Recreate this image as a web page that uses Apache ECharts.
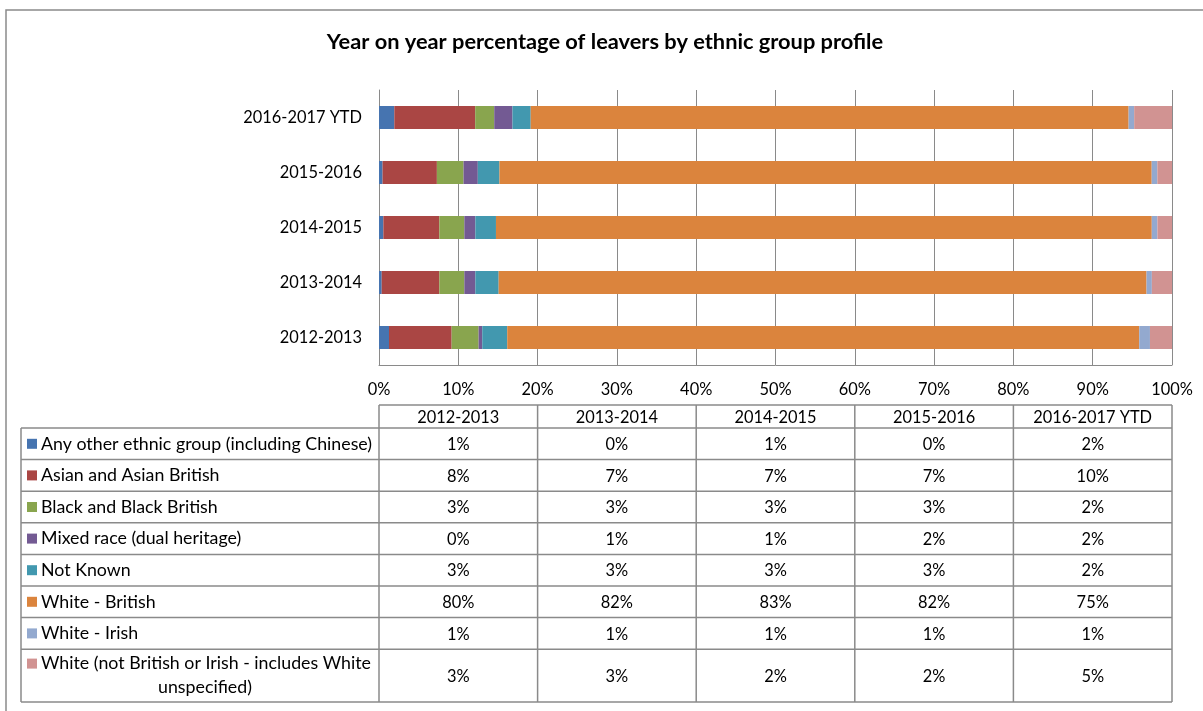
<!DOCTYPE html>
<html>
<head>
<meta charset="utf-8">
<title>Leavers by ethnic group</title>
<script src="https://cdn.jsdelivr.net/npm/echarts@6/dist/echarts.min.js"></script>
<style>
  html, body { margin: 0; padding: 0; background: #ffffff; }
  #chart { width: 1203px; height: 711px; }
</style>
</head>
<body>
<div id="chart"></div>
<script>
// Academic years, bottom to top on the chart
const years = ['2012-2013', '2013-2014', '2014-2015', '2015-2016', '2016-2017 YTD'];

// Percentage of leavers per ethnic group, one value per year
const anyOther     = [1.26, 0.34, 0.55, 0.45, 1.93];
const asianBritish = [7.90, 7.27, 7.06, 6.85, 10.20];
const blackBritish = [3.40, 3.15, 3.15, 3.36, 2.40];
const mixedRace    = [0.46, 1.39, 1.39, 1.80, 2.30];
const notKnown     = [3.15, 2.94, 2.60, 2.73, 2.30];
const whiteBritish = [79.70, 81.70, 82.70, 82.25, 75.40];
const whiteIrish   = [1.35, 0.67, 0.71, 0.71, 0.70];
const whiteOther   = [2.78, 2.54, 1.84, 1.85, 4.77];

const groupNames = [
  'Any other ethnic group (including Chinese)',
  'Asian and Asian British',
  'Black and Black British',
  'Mixed race (dual heritage)',
  'Not Known',
  'White - British',
  'White - Irish',
  'White (not British or Irish - includes White unspecified)'
];
const groupValues = [anyOther, asianBritish, blackBritish, mixedRace, notKnown, whiteBritish, whiteIrish, whiteOther];

// Percentage axis ticks
const axisMin = 0, axisMax = 100, axisStep = 10;

const palette = ['#4674B0', '#AA4644', '#89A54E', '#735A93', '#4298AF', '#DB843D', '#93A9CF', '#D19392'];
const FONT = 'Lato, "Open Sans", sans-serif';
const LINE = '#8a8a8a';
const NUM_SIZE = 16.4;   // years and percentages
const NAME_SIZE = 17.8;  // group names in the table

const chart = echarts.init(document.getElementById('chart'), null, { renderer: 'canvas' });

const series = groupNames.map((name, i) => ({
  name: name,
  type: 'bar',
  stack: 'total',
  barWidth: 23,
  data: groupValues[i],
  itemStyle: { color: palette[i] },
  emphasis: { disabled: true }
}));

chart.setOption({
  animation: false,
  backgroundColor: '#ffffff',
  title: {
    text: 'Year on year percentage of leavers by ethnic group profile',
    left: 600, top: 26, textAlign: 'center',
    textStyle: { fontFamily: FONT, fontSize: 21.8, fontWeight: 'bold', color: '#000000' }
  },
  grid: { left: 379, right: 31, top: 90, bottom: 346, containLabel: false },
  xAxis: {
    type: 'value', min: axisMin, max: axisMax, interval: axisStep,
    axisLine: { show: true, lineStyle: { color: LINE, width: 1 } },
    axisTick: { show: false },
    splitLine: { show: true, lineStyle: { color: LINE, width: 1 } },
    axisLabel: { formatter: '{value}%', margin: 17, color: '#000000', fontFamily: FONT, fontSize: NUM_SIZE }
  },
  yAxis: {
    type: 'category', data: years,
    axisLine: { show: true, lineStyle: { color: LINE, width: 1 } },
    axisTick: { show: false },
    axisLabel: { margin: 17, color: '#000000', fontFamily: FONT, fontSize: NUM_SIZE }
  },
  series: series
});

// Data table beneath the plot: columns line up with every 20% of the axis
function drawTable() {
  const colEdges = [0, 20, 40, 60, 80, 100].map(v => chart.convertToPixel({ xAxisIndex: 0 }, v));
  const tableLeft = 21;
  const headerTop = 405, headerBottom = 428;
  const rowH = 31.6, lastRowH = 52.8;
  const rowTops = [];
  for (let r = 0; r < groupNames.length; r++) rowTops.push(headerBottom + r * rowH);
  const tableBottom = rowTops[rowTops.length - 1] + lastRowH;
  const right = colEdges[colEdges.length - 1];
  const els = [];
  const line = (x1, y1, x2, y2) => els.push({
    type: 'line', silent: true,
    shape: { x1: x1, y1: y1, x2: x2, y2: y2 },
    style: { stroke: LINE, lineWidth: 1.5 }
  });
  const text = (x, y, str, align, size) => els.push({
    type: 'text', silent: true, x: x, y: y,
    style: { text: str, fill: '#000000', font: size + 'px ' + FONT, align: align, verticalAlign: 'middle' }
  });

  // outer frame of the chart
  els.push({ type: 'rect', silent: true, shape: { x: 6, y: 10, width: 1220, height: 720 },
             style: { fill: null, stroke: LINE, lineWidth: 1.5 } });

  // header row
  line(colEdges[0], headerTop, right, headerTop);
  colEdges.forEach(x => line(x, headerTop, x, tableBottom));
  years.forEach((y, c) => text((colEdges[c] + colEdges[c + 1]) / 2, (headerTop + headerBottom) / 2 + 1, y, 'center', NUM_SIZE));

  // body rows
  line(tableLeft, headerBottom, right, headerBottom);
  line(tableLeft, headerBottom, tableLeft, tableBottom);
  groupNames.forEach((name, r) => {
    const top = rowTops[r];
    const h = r === groupNames.length - 1 ? lastRowH : rowH;
    line(tableLeft, top + h, right, top + h);
    const mid = top + h / 2;
    let keyY = mid;
    if (r === groupNames.length - 1) {
      keyY = mid - 12;
      text(41, keyY, 'White (not British or Irish - includes White', 'left', NAME_SIZE);
      text(205, mid + 12, 'unspecified)', 'center', NAME_SIZE);
    } else {
      text(41, mid, name, 'left', NAME_SIZE);
    }
    els.push({ type: 'rect', silent: true, shape: { x: 27, y: keyY - 5, width: 10, height: 10 },
               style: { fill: palette[r] } });
    groupValues[r].forEach((v, c) => {
      text((colEdges[c] + colEdges[c + 1]) / 2, mid + 1, Math.round(v) + '%', 'center', NUM_SIZE);
    });
  });
  chart.setOption({ graphic: { elements: els } });
}
drawTable();
</script>
</body>
</html>
